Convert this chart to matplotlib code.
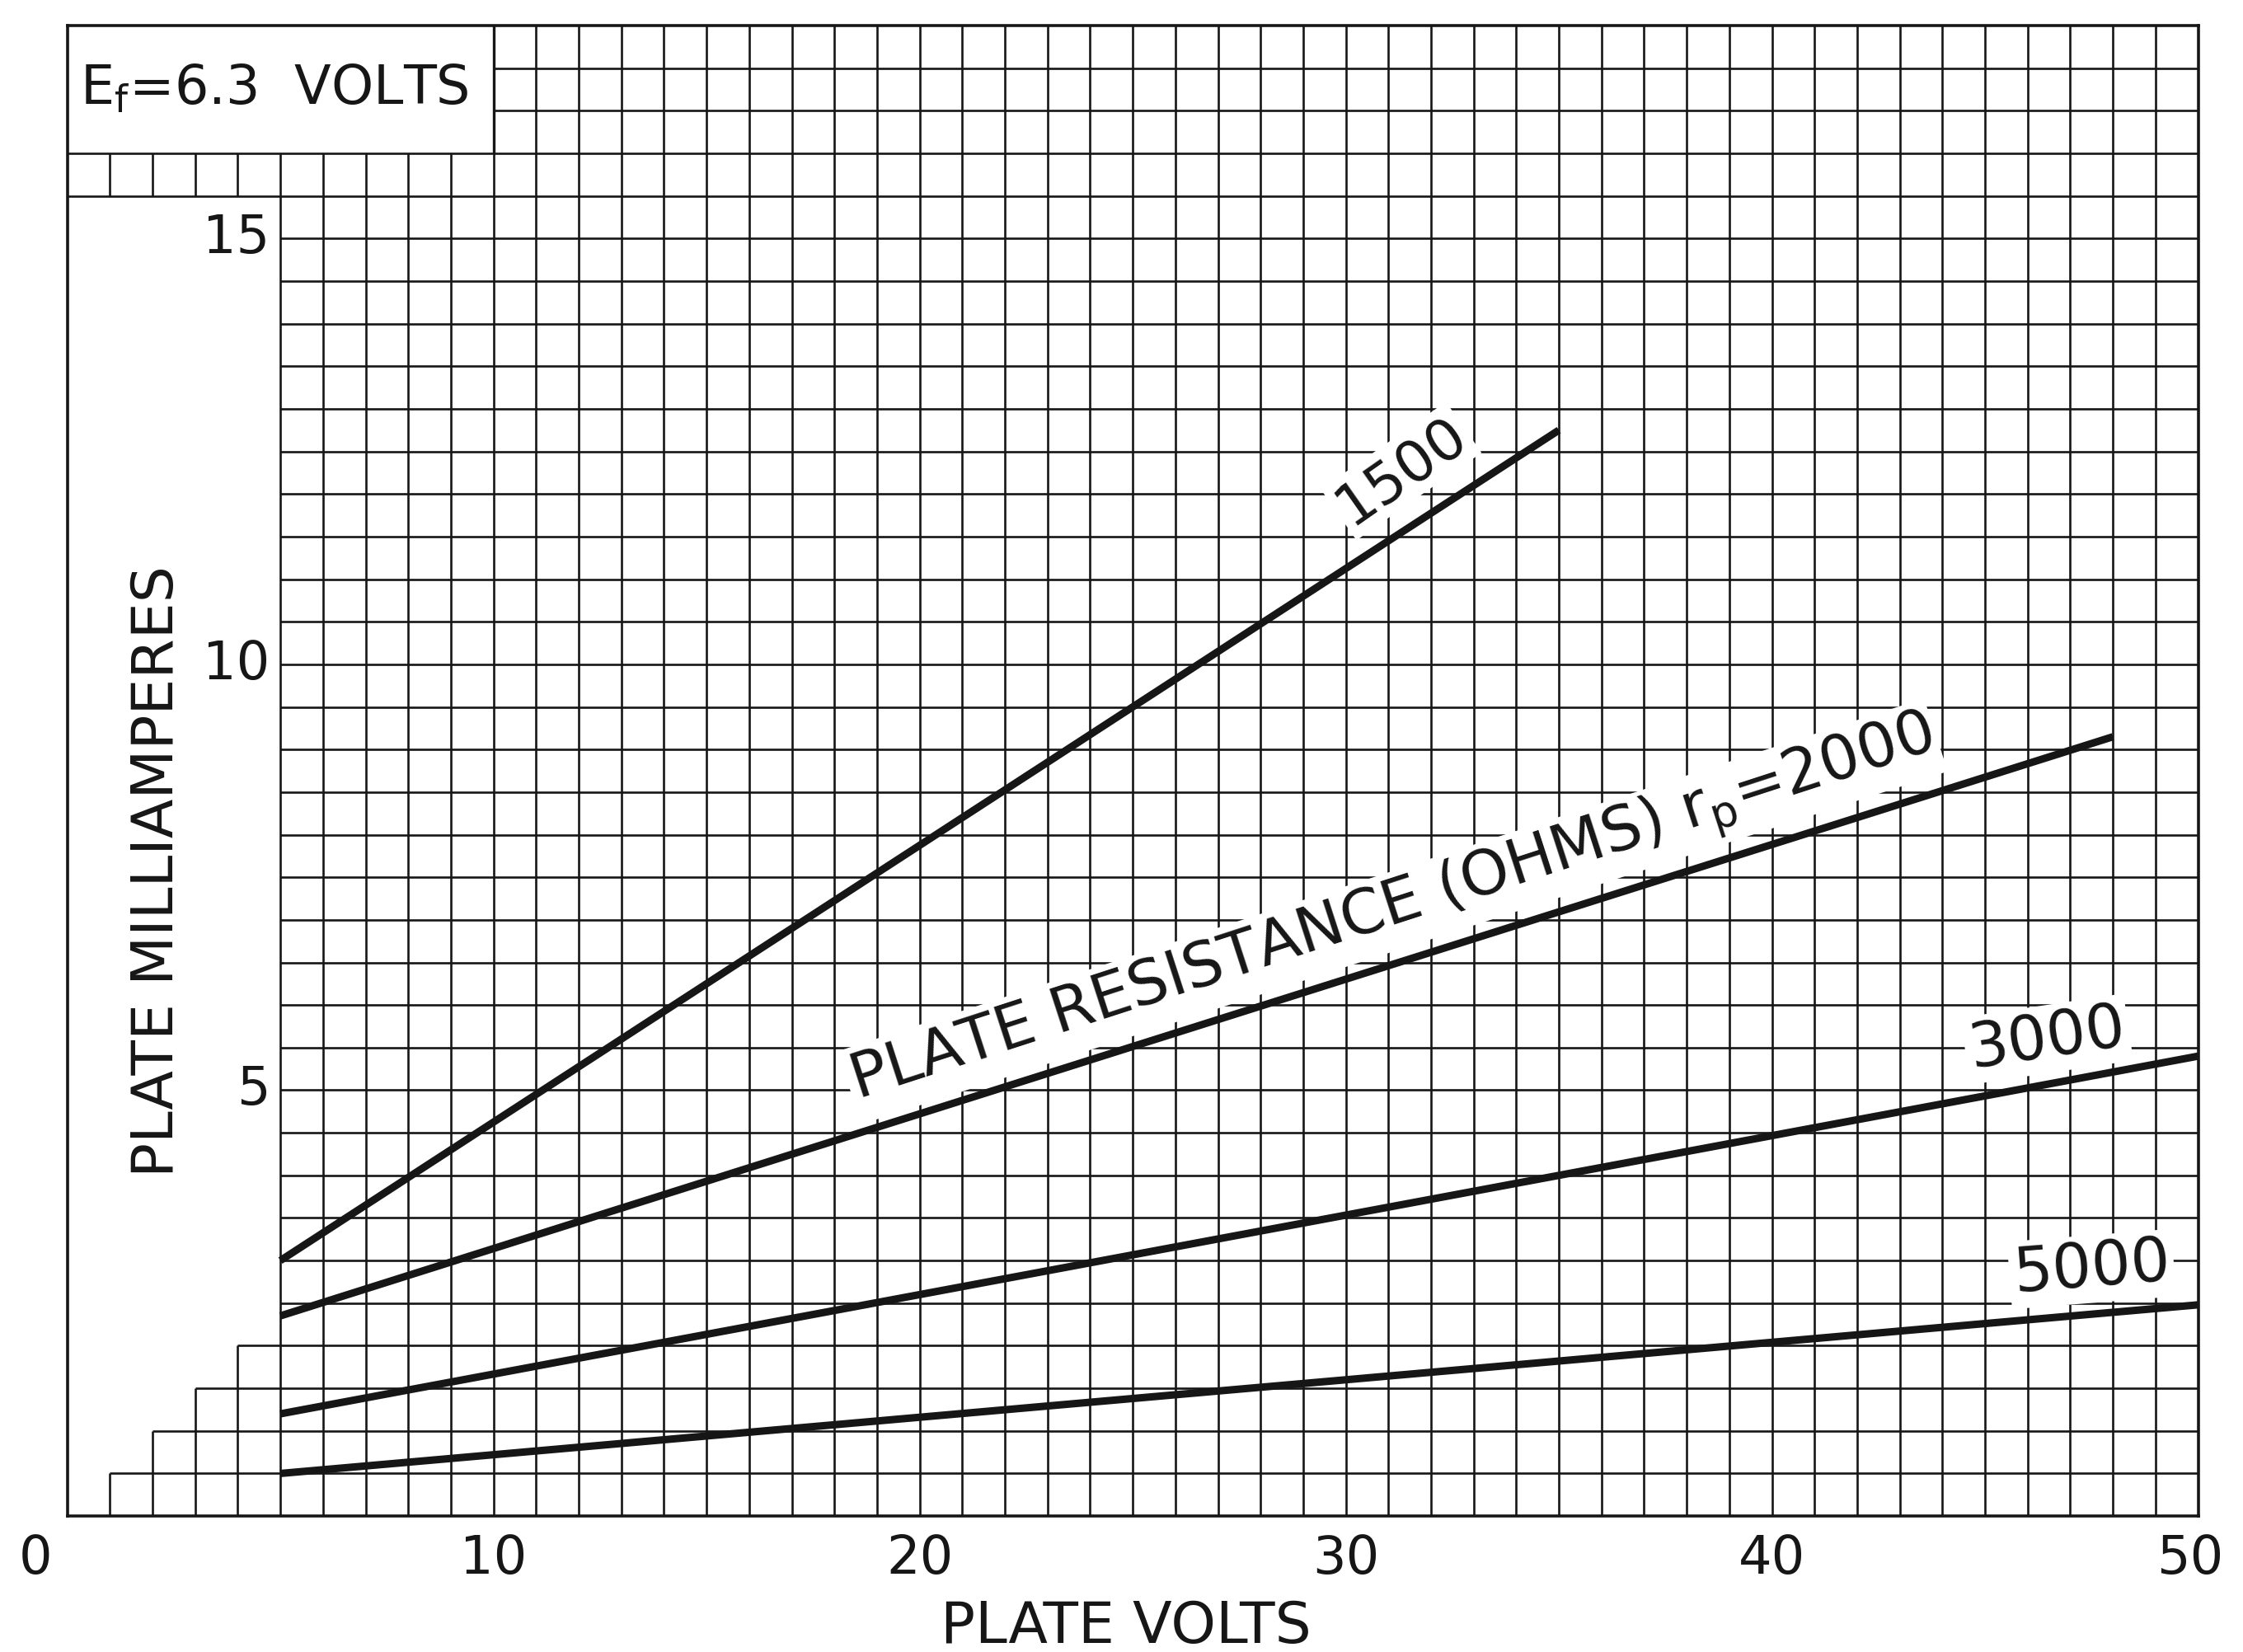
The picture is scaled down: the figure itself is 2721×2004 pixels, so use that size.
import matplotlib
matplotlib.use('Agg')
import matplotlib.pyplot as plt

# plate resistance lines, end points (plate volts, plate mA)
volts_1500 = [5, 35]
ma_1500 = [3.0, 12.75]
volts_2000 = [5, 48]
ma_2000 = [2.35, 9.15]
volts_3000 = [5, 50]
ma_3000 = [1.2, 5.4]
volts_5000 = [5, 50]
ma_5000 = [0.5, 2.48]

x_ticks = [0, 10, 20, 30, 40, 50]
y_ticks = [5, 10, 15]

ink = '#161616'
plt.rcParams['font.family'] = ['DejaVu Sans']
plt.rcParams['mathtext.fontset'] = 'dejavusans'

fig = plt.figure(figsize=(27.21, 20.04), dpi=100)
ax = fig.add_axes([0.030, 0.0823, 0.950, 0.9022])
ax.set_xlim(0, 50)
ax.set_ylim(0, 17.5)
ax.set_xticks([])
ax.set_yticks([])
for s in ax.spines.values():
    s.set_linewidth(2.6)
    s.set_color(ink)

glw = 1.9
# vertical grid lines
for v in range(1, 50):
    if v < 5:
        ax.vlines(v, 0, 0.5 * v, color=ink, lw=glw)      # stair steps
        ax.vlines(v, 15.5, 16, color=ink, lw=glw)
    elif v < 10:
        ax.vlines(v, 0, 16, color=ink, lw=glw)
    else:
        ax.vlines(v, 0, 17.5, color=ink, lw=glw)

# horizontal grid lines
for k in range(1, 35):
    y = 0.5 * k
    if k <= 4:
        ax.hlines(y, k, 50, color=ink, lw=glw)
    elif y < 15.5:
        ax.hlines(y, 5, 50, color=ink, lw=glw)
    elif y <= 16:
        ax.hlines(y, 0, 50, color=ink, lw=glw)
    else:
        ax.hlines(y, 10, 50, color=ink, lw=glw)

# right edge of the header box
ax.vlines(10, 16, 17.5, color=ink, lw=2.4)

# resistance lines
for xs, ys in [(volts_1500, ma_1500), (volts_2000, ma_2000),
               (volts_3000, ma_3000), (volts_5000, ma_5000)]:
    ax.plot(xs, ys, color=ink, lw=6.5, solid_capstyle='butt', zorder=3)

fs = 46
box = dict(facecolor='white', edgecolor='none', pad=3)
ax.text(0.3, 16.75, r'E$_\mathregular{f}$=6.3  VOLTS', fontsize=47, color=ink,
        ha='left', va='center', zorder=4)
ax.text(31.3, 12.27, '1500', fontsize=50, color=ink, rotation=35,
        ha='center', va='center', rotation_mode='anchor', bbox=box, zorder=4)
ax.text(31.1, 7.1, r'PLATE RESISTANCE (OHMS) r$_\mathregular{p}$=2000', fontsize=54,
        color=ink, rotation=18, ha='center', va='center', rotation_mode='anchor',
        bbox=box, zorder=4)
ax.text(46.45, 5.6, '3000', fontsize=54, color=ink, rotation=8.5,
        ha='center', va='center', rotation_mode='anchor', bbox=box, zorder=4)
ax.text(47.5, 2.9, '5000', fontsize=54, color=ink, rotation=4.5,
        ha='center', va='center', rotation_mode='anchor', bbox=box, zorder=4)

# y tick labels sit inside the plot, left of the 5 volt line
for t in y_ticks:
    ax.text(4.75, t, str(t), fontsize=fs, color=ink, ha='right', va='center')

# x tick labels
for t in x_ticks:
    xpos = t
    if t == 0:
        xpos = -0.75
    elif t == 50:
        xpos = 49.8
    ax.text(xpos, -0.5, str(t), fontsize=fs, color=ink, ha='center', va='center',
            clip_on=False)

ax.text(2.1, 7.57, 'PLATE MILLIAMPERES', fontsize=50, color=ink, rotation=90,
        ha='center', va='center')
ax.text(24.85, -1.3, 'PLATE VOLTS', fontsize=50, color=ink, ha='center',
        va='center', clip_on=False)

fig.savefig('out.png', dpi=100, facecolor='white')
